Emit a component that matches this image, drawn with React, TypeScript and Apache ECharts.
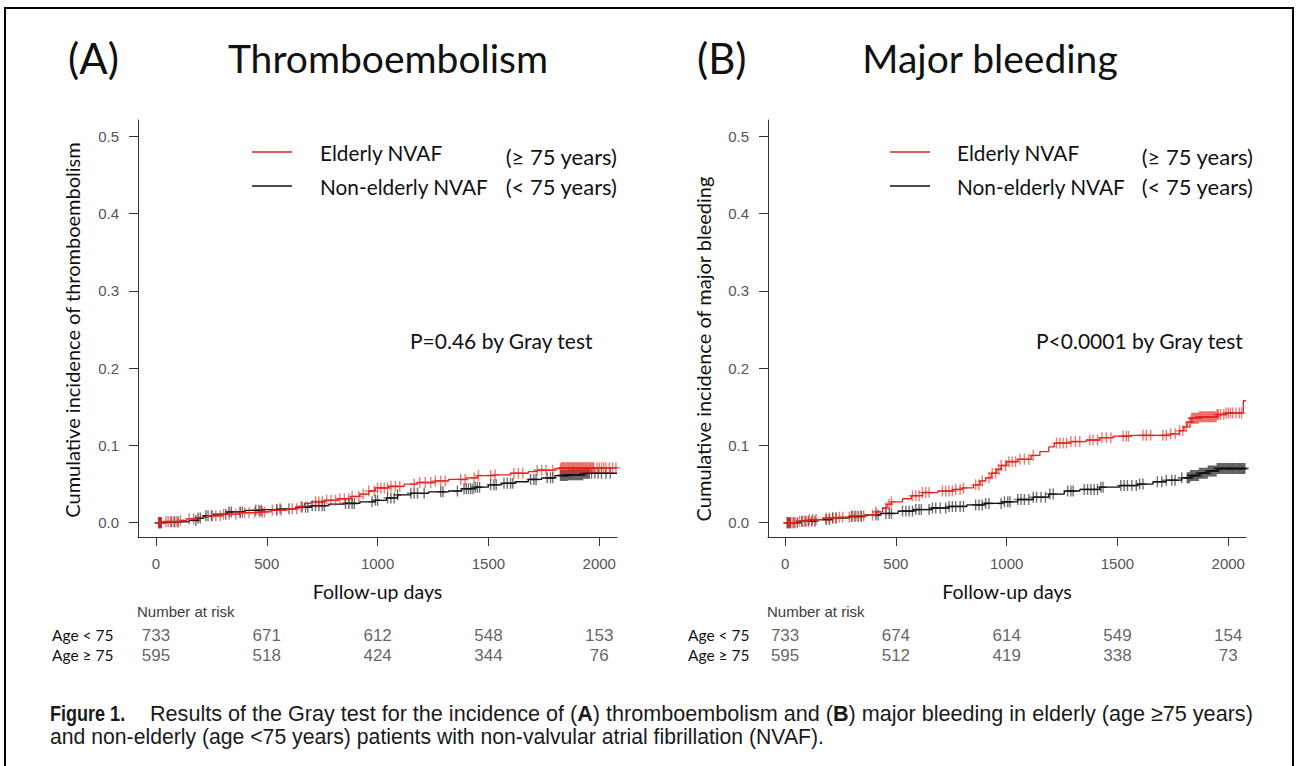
import React, { useEffect, useRef } from 'react';
import * as echarts from 'echarts';

// ---------- data ----------
const xTicks = [0, 500, 1000, 1500, 2000];
const yTicks = [0, 0.1, 0.2, 0.3, 0.4, 0.5];
const riskDays = [0, 500, 1000, 1500, 2000];

// Panel A: thromboembolism (step curves: [day, cumulative incidence])
const teElderly = [
  [0, 0], [30, 0.0015], [110, 0.003], [140, 0.005], [190, 0.007], [230, 0.009], [300, 0.011],
  [380, 0.013], [460, 0.014], [520, 0.016], [590, 0.018], [640, 0.021], [670, 0.025], [700, 0.027],
  [760, 0.029], [820, 0.031], [880, 0.034], [920, 0.037], [960, 0.041], [990, 0.045], [1050, 0.047],
  [1120, 0.05], [1180, 0.052], [1260, 0.054], [1320, 0.056], [1400, 0.058], [1450, 0.061],
  [1530, 0.062], [1600, 0.064], [1680, 0.066], [1720, 0.068], [1800, 0.07], [1830, 0.071], [2080, 0.071],
];
const teYoung = [
  [0, 0], [60, 0.001], [150, 0.003], [190, 0.006], [215, 0.009], [260, 0.011], [320, 0.014],
  [400, 0.016], [480, 0.017], [560, 0.018], [630, 0.02], [700, 0.022], [780, 0.024], [850, 0.025],
  [920, 0.027], [990, 0.029], [1040, 0.032], [1090, 0.036], [1150, 0.038], [1230, 0.04], [1320, 0.041],
  [1380, 0.044], [1440, 0.046], [1500, 0.049], [1560, 0.051], [1620, 0.053], [1680, 0.056],
  [1740, 0.058], [1800, 0.061], [1860, 0.062], [1930, 0.064], [2080, 0.064],
];
const teElderlyCensor = [
  12, 16, 20, 24, 45, 55, 65, 80, 95, 110, 150, 170, 255, 270, 290, 305, 330, 360, 380, 400, 420, 445,
  470, 480, 490, 525, 545, 565, 615, 635, 655, 720, 735, 750, 770, 790, 810, 830, 850, 870, 885, 915,
  935, 960, 985, 1000, 1015, 1030, 1045, 1060, 1080, 1100, 1165, 1190, 1215, 1240, 1260, 1285, 1305,
  1375, 1395, 1435, 1455, 1510, 1530, 1615, 1635, 1655, 1720, 1740, 1760, 1790,
  1825, 1830, 1835, 1840, 1845, 1850, 1855, 1860, 1865, 1870, 1875, 1880, 1885, 1890, 1895, 1900,
  1905, 1910, 1915, 1920, 1925, 1930, 1935, 1940, 1945, 1950, 1955, 1960, 1965, 1970, 1975,
  1990, 2000, 2010, 2020, 2030, 2045, 2060, 2075,
];
const teYoungCensor = [
  12, 16, 20, 24, 70, 85, 100, 180, 190, 200, 225, 235, 250, 315, 330, 340, 380, 390, 450, 465, 475,
  545, 560, 600, 660, 675, 685, 705, 720, 735, 750, 760, 855, 870, 885, 895, 975, 990, 1000, 1045,
  1060, 1075, 1090, 1150, 1165, 1180, 1210, 1285, 1295, 1360, 1390, 1400, 1410, 1420, 1430, 1440,
  1450, 1460, 1510, 1525, 1535, 1570, 1585, 1600, 1610, 1690, 1705, 1715, 1765, 1780, 1790,
  1825, 1830, 1835, 1840, 1845, 1850, 1855, 1860, 1865, 1870, 1875, 1880, 1885, 1890, 1895, 1900,
  1905, 1910, 1915, 1920, 1925, 1930, 1935, 1940, 1945, 1950, 1955, 1965, 1980, 1995, 2010, 2030, 2050,
];

// Panel B: major bleeding
const mbElderly = [
  [0, 0], [50, 0.002], [110, 0.004], [170, 0.006], [240, 0.007], [300, 0.009], [370, 0.01],
  [410, 0.014], [440, 0.019], [460, 0.024], [480, 0.027], [530, 0.031], [570, 0.035], [620, 0.039],
  [690, 0.041], [760, 0.043], [800, 0.045], [850, 0.049], [880, 0.054], [905, 0.058], [930, 0.064],
  [955, 0.069], [975, 0.074], [1000, 0.079], [1050, 0.082], [1110, 0.087], [1150, 0.092],
  [1190, 0.098], [1215, 0.103], [1290, 0.105], [1360, 0.107], [1420, 0.11], [1480, 0.112],
  [1560, 0.113], [1740, 0.115], [1780, 0.119], [1800, 0.124], [1815, 0.13], [1835, 0.135],
  [1870, 0.137], [1950, 0.14], [1990, 0.142], [2068, 0.158], [2080, 0.158],
];
const mbYoung = [
  [0, 0], [70, 0.002], [140, 0.004], [210, 0.006], [290, 0.008], [360, 0.01], [430, 0.012],
  [510, 0.015], [580, 0.017], [660, 0.019], [740, 0.021], [820, 0.023], [900, 0.025], [980, 0.027],
  [1050, 0.03], [1120, 0.033], [1190, 0.037], [1260, 0.041], [1330, 0.043], [1420, 0.046],
  [1510, 0.048], [1590, 0.05], [1660, 0.053], [1720, 0.055], [1790, 0.058], [1830, 0.061],
  [1870, 0.064], [1910, 0.067], [1950, 0.07], [2080, 0.071],
];
const mbElderlyCensor = [
  10, 15, 20, 25, 35, 45, 65, 80, 95, 110, 125, 140, 185, 200, 215, 230, 245, 260, 290, 305, 320, 340,
  355, 395, 410, 455, 470, 480, 575, 590, 605, 620, 635, 650, 710, 725, 740, 755, 770, 790, 805, 860,
  875, 890, 920, 935, 950, 965, 975, 995, 1010, 1025, 1040, 1060, 1080, 1100, 1120, 1225, 1240, 1255,
  1270, 1290, 1310, 1330, 1375, 1390, 1410, 1430, 1450, 1470, 1525, 1540, 1550, 1615, 1630, 1650,
  1705, 1720, 1740, 1760, 1780, 1795, 1810,
  1825, 1830, 1835, 1840, 1845, 1850, 1855, 1860, 1865, 1870, 1875, 1880, 1885, 1890, 1895, 1900,
  1905, 1910, 1915, 1920, 1925, 1930, 1935, 1940, 1945, 1950, 1955,
  1965, 1980, 1990, 2000, 2010, 2020, 2035, 2050, 2060,
];
const mbYoungCensor = [
  10, 15, 20, 25, 40, 55, 75, 90, 105, 120, 135, 185, 200, 215, 230, 300, 315, 330, 345, 410, 420, 455,
  470, 480, 530, 545, 560, 575, 590, 605, 615, 650, 665, 680, 700, 725, 740, 755, 770, 790, 805, 860,
  875, 890, 905, 920, 975, 990, 1005, 1015, 1050, 1065, 1080, 1100, 1120, 1135, 1155, 1175, 1195,
  1210, 1275, 1290, 1300, 1350, 1365, 1380, 1395, 1410, 1425, 1435, 1515, 1530, 1545, 1565, 1585,
  1600, 1615, 1680, 1700, 1720, 1745, 1760, 1790,
  1815, 1820, 1825, 1830, 1835, 1840, 1845, 1850, 1855, 1860, 1865, 1870, 1875, 1880, 1885, 1890,
  1895, 1900, 1905, 1910, 1915, 1920, 1925, 1930, 1935, 1940, 1945, 1950, 1955, 1960, 1965, 1970,
  1975, 1980, 1985, 1990, 1995, 2000, 2005, 2010, 2015, 2020, 2025, 2030, 2035, 2040, 2045, 2050,
  2055, 2060, 2065, 2070, 2075,
];

// Number at risk
const riskA_young = [733, 671, 612, 548, 153];
const riskA_old = [595, 518, 424, 344, 76];
const riskB_young = [733, 674, 614, 549, 154];
const riskB_old = [595, 512, 419, 338, 73];

// ---------- styles ----------
const RED = '#e4231c';
const BLACK = '#111111';
const ARIAL = '"Liberation Sans", Arial, sans-serif';
const NARROW = '"Liberation Sans Narrow", "Arial Narrow", "Liberation Sans", sans-serif';
const CAL = 'Lato, "Open Sans", sans-serif';
const PLUS = 'path://M3.3,0 H4.7 V4.3 H8 V5.7 H4.7 V10 H3.3 V5.7 H0 V4.3 H3.3 Z';

const stepAt = (curve: number[][], t: number) => {
  let v = curve[0][1];
  for (const p of curve) {
    if (p[0] <= t) v = p[1];
    else break;
  }
  return v;
};

function panelSeries(idx: number, elderly: number[][], young: number[][], cE: number[], cY: number[]) {
  const line = (data: number[][], color: string, z: number) => ({
    type: 'line', xAxisIndex: idx, yAxisIndex: idx, data, step: 'end', showSymbol: false, symbol: 'none',
    lineStyle: { color, width: 1.3 }, z, silent: true,
  });
  const marks = (censor: number[], curve: number[][], color: string, z: number) => ({
    type: 'scatter', xAxisIndex: idx, yAxisIndex: idx,
    data: censor.map((t) => [t, stepAt(curve, t)]),
    symbol: PLUS, symbolSize: [8, 11], itemStyle: { color, opacity: 0.6 }, z, silent: true,
  });
  return [line(young, BLACK, 2), marks(cY, young, BLACK, 3), line(elderly, RED, 4), marks(cE, elderly, RED, 5)];
}

function riskSeries(idx: number, young: number[], old: number[]) {
  const mk = (vals: number[], y: number) => ({
    type: 'scatter', xAxisIndex: idx, yAxisIndex: idx,
    data: riskDays.map((d, i) => [d, y, vals[i]]),
    symbolSize: 1, itemStyle: { color: 'transparent' }, silent: true,
    label: {
      show: true, position: 'inside', formatter: (p: any) => String(p.value[2]),
      fontFamily: NARROW, fontSize: 17, color: '#3c3c3c',
    },
  });
  return [mk(young, 1.5), mk(old, 0.5)];
}

function mainX(gridIndex: number, min: number) {
  return {
    type: 'value', gridIndex, min, max: 2080, splitLine: { show: false },
    axisLine: { show: true, onZero: false, lineStyle: { color: '#333', width: 1 } },
    axisTick: { show: true, length: 9, customValues: xTicks, lineStyle: { color: '#333' } },
    axisLabel: {
      customValues: xTicks, margin: 19, fontFamily: ARIAL, fontSize: 15, color: '#555',
      formatter: (v: number) => String(v),
    },
    name: 'Follow-up days', nameLocation: 'middle', nameGap: 44,
    nameTextStyle: { fontFamily: CAL, fontSize: 19.5, color: '#111' },
  };
}
function mainY(gridIndex: number) {
  return {
    type: 'value', gridIndex, min: -0.0185, max: 0.521, splitLine: { show: false },
    axisLine: { show: true, onZero: false, lineStyle: { color: '#333', width: 1 } },
    axisTick: { show: true, length: 9, customValues: yTicks, lineStyle: { color: '#333' } },
    axisLabel: {
      customValues: yTicks, margin: 19, fontFamily: ARIAL, fontSize: 15, color: '#555',
      formatter: (v: number) => v.toFixed(1),
    },
  };
}
const hiddenX = (gridIndex: number, min: number) => ({ type: 'value', gridIndex, min, max: 2080, show: false });
const hiddenY = (gridIndex: number) => ({ type: 'value', gridIndex, min: 0, max: 2, show: false });

function txt(text: string, x: number, y: number, size: number, opts: any = {}) {
  return {
    type: 'text', x, y, silent: true,
    rotation: opts.rotation || 0,
    scaleX: opts.scaleX || 1,
    style: {
      text, fontFamily: opts.family || CAL, fontSize: size, fontWeight: opts.weight || 'normal',
      fill: opts.fill || '#111', textAlign: opts.align || 'left', textVerticalAlign: 'middle',
      rich: opts.rich,
    },
  };
}

function buildGraphic() {
  const g: any[] = [];
  g.push({ type: 'rect', silent: true, shape: { x: 5, y: 8, width: 1288, height: 800 }, style: { fill: 'none', stroke: '#000', lineWidth: 2 } });
  // titles
  g.push(txt('(A)', 68, 58, 42));
  g.push(txt('Thromboembolism', 388, 58, 39, { align: 'center' }));
  g.push(txt('(B)', 697, 58, 42));
  g.push(txt('Major bleeding', 990, 58, 39, { align: 'center' }));
  // y-axis titles
  g.push(txt('Cumulative incidence of thromboembolism', 72, 330, 20, { align: 'center', rotation: Math.PI / 2 }));
  g.push(txt('Cumulative incidence of major bleeding', 703, 349, 20, { align: 'center', rotation: Math.PI / 2 }));
  // legends
  const legend = (lx: number, tx: number, rx: number) => {
    g.push({ type: 'line', silent: true, shape: { x1: lx, y1: 152, x2: lx + 40, y2: 152 }, style: { stroke: RED, lineWidth: 1.5 } });
    g.push({ type: 'line', silent: true, shape: { x1: lx, y1: 186, x2: lx + 40, y2: 186 }, style: { stroke: BLACK, lineWidth: 1.5 } });
    g.push(txt('Elderly NVAF', tx, 152, 20.8));
    g.push(txt('Non-elderly NVAF', tx, 186, 20.8));
    g.push(txt('(≥ 75 years)', rx, 156, 22, { align: 'right' }));
    g.push(txt('(< 75 years)', rx, 186, 22, { align: 'right' }));
  };
  legend(252, 320, 617);
  legend(890, 957, 1253);
  g.push(txt('P=0.46 by Gray test', 410, 340, 21));
  g.push(txt('P<0.0001 by Gray test', 1036, 340, 21));
  // risk table labels
  const riskLabels = (ax: number, nx: number) => {
    g.push(txt('Number at risk', nx, 611, 15, { family: NARROW, fill: '#3c3c3c' }));
    g.push(txt('Age < 75', ax, 635, 15.5));
    g.push(txt('Age ≥ 75', ax, 655, 15.5));
  };
  riskLabels(52, 137);
  riskLabels(688, 767);
  // caption
  const capFont = { family: NARROW, fill: '#1a1a1a' };
  g.push(txt('Figure 1.', 50, 713, 22, { ...capFont, weight: 'bold', scaleX: 0.82 }));
  g.push(txt(
    'Results of the Gray test for the incidence of ({b|A}) thromboembolism and ({b|B}) major bleeding in elderly (age ≥75 years)',
    150, 713, 21.6,
    { ...capFont, rich: { b: { fontFamily: NARROW, fontSize: 21.6, fontWeight: 'bold', fill: '#1a1a1a' } } },
  ));
  g.push(txt('and non-elderly (age <75 years) patients with non-valvular atrial fibrillation (NVAF).', 50, 736, 21.2, capFont));
  return g;
}

export default function App() {
  const ref = useRef<HTMLDivElement>(null);
  useEffect(() => {
    if (!ref.current) return;
    const chart = echarts.init(ref.current, null, { renderer: 'svg' });
    chart.setOption({
      animation: false,
      backgroundColor: '#ffffff',
      grid: [
        { left: 138, top: 120, width: 479, height: 417 },
        { left: 768, top: 120, width: 478, height: 417 },
        { left: 138, top: 625, width: 479, height: 40 },
        { left: 768, top: 625, width: 478, height: 40 },
      ],
      xAxis: [mainX(0, -81), mainX(1, -77), hiddenX(2, -81), hiddenX(3, -77)],
      yAxis: [mainY(0), mainY(1), hiddenY(2), hiddenY(3)],
      series: [
        ...panelSeries(0, teElderly, teYoung, teElderlyCensor, teYoungCensor),
        ...panelSeries(1, mbElderly, mbYoung, mbElderlyCensor, mbYoungCensor),
        ...riskSeries(2, riskA_young, riskA_old),
        ...riskSeries(3, riskB_young, riskB_old),
      ],
      graphic: buildGraphic(),
    });
    return () => chart.dispose();
  }, []);
  return (
    <div
      ref={ref}
      style={{ position: 'absolute', left: 0, top: 0, width: 1298, height: 766, background: '#fff' }}
    />
  );
}
